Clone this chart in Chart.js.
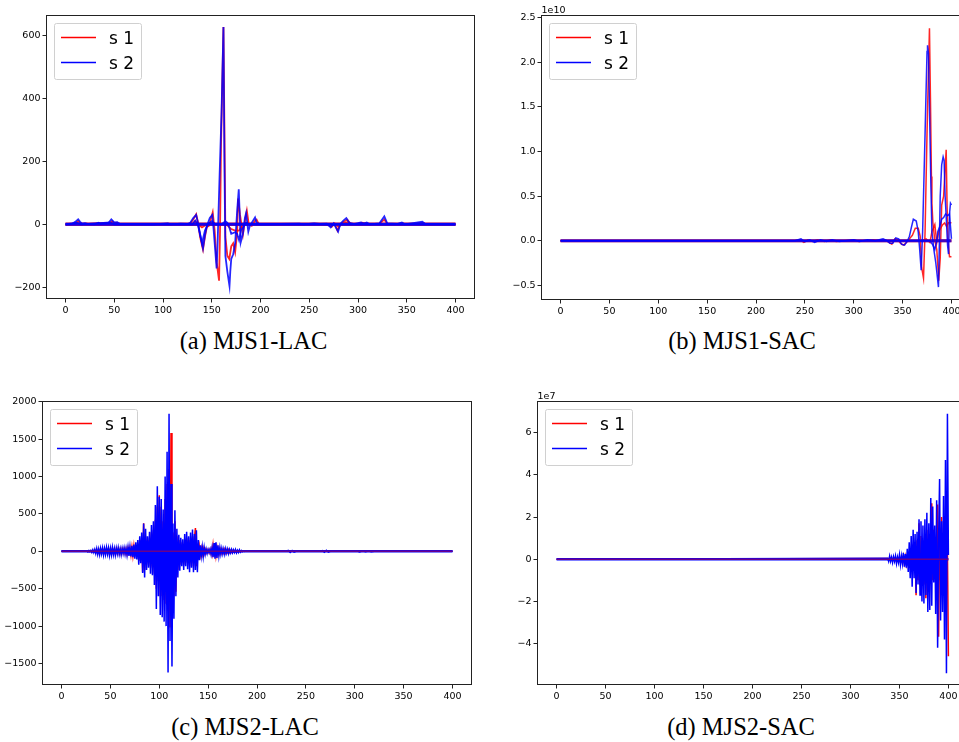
<!DOCTYPE html>
<html><head><meta charset="utf-8">
<script src="https://cdn.jsdelivr.net/npm/chart.js@4.4.1/dist/chart.umd.min.js"></script>
<style>
html,body{margin:0;padding:0;background:#fff;width:959px;height:742px;overflow:hidden;position:relative}
canvas{position:absolute}
.cap{position:absolute;font-family:'Liberation Serif','Times New Roman',serif;font-size:24.5px;color:#000;transform:translate(-50%,-50%);white-space:nowrap}
</style></head><body>
<canvas id="ca" width="485" height="321" style="left:0;top:0"></canvas>
<canvas id="cb" width="491" height="322" style="left:490px;top:0"></canvas>
<canvas id="cc" width="482" height="321" style="left:0;top:386px"></canvas>
<canvas id="cd" width="488" height="321" style="left:490px;top:386px"></canvas>
<div class="cap" style="left:253.5px;top:341px">(a) MJS1-LAC</div>
<div class="cap" style="left:742px;top:341px">(b) MJS1-SAC</div>
<div class="cap" style="left:245px;top:727px">(c) MJS2-LAC</div>
<div class="cap" style="left:741px;top:727px">(d) MJS2-SAC</div>
<script>
// ---------- tick labels ----------
const X_TICKS = [0,50,100,150,200,250,300,350,400];
const A_YTICKS = [-200,0,200,400,600];
const B_YTICKS = [-0.5,0,0.5,1.0,1.5,2.0,2.5];
const C_YTICKS = [-1500,-1000,-500,0,500,1000,1500,2000];
const D_YTICKS = [-4,-2,0,2,4,6];
const SERIES_LABELS = ['s 1','s 2'];

// ---------- (a) MJS1-LAC ----------
const A_S1 = [[0,0],[8,1],[11,6],[13,10],[15,4],[18,1],[22,2],[26,0],[34,3],[36,0],[45,3],[48,10],[50,4],[53,5],[55,0],[70,1],[90,0],[105,2],[108,0],[118,1],[125,0],[128,3],[131,15],[134,32],[136,5],[138,-40],[141,-80],[143,-40],[145,-8],[147,-5],[149,15],[151,38],[153,-20],[155,-120],[157.5,-179],[158.5,-20],[159.5,250],[160.5,250],[162,626],[163,300],[164,-40],[166,-100],[168,-110],[170,-70],[172,-60],[174,-88],[176,-30],[177,82],[179,30],[182,-32],[184,10],[186,43],[188,0],[191,-5],[194,10],[196,15],[198,2],[205,0],[220,1],[240,0],[255,2],[262,1],[270,-3],[273,-8],[276,2],[279,-20],[281,-5],[284,5],[289,15],[292,3],[298,0],[304,5],[308,3],[312,0],[322,2],[327,15],[330,2],[340,0],[345,3],[350,0],[367,4],[370,0],[400,0]];
const A_S1B = [[0,0],[12,3],[15,0],[47,5],[50,0],[130,0],[133,10],[136,0],[140,-10],[145,0],[150,5],[155,0],[165,0],[170,-15],[174,-20],[178,-20],[181,-5],[185,5],[190,0],[278,0],[280,-8],[283,0],[290,8],[293,0],[400,0]];
const A_S2 = [[0,0],[7,2],[10,8],[13,16],[15,8],[17,2],[20,4],[23,1],[30,0],[34,5],[36,1],[44,4],[47,16],[50,6],[53,7],[56,1],[70,1],[90,0],[105,3],[108,0],[118,2],[125,1],[128,5],[131,20],[134,30],[136,2],[138,-30],[141,-76],[143,-35],[145,-5],[148,20],[150.6,30],[152,-20],[155,-140],[156,-60],[158,150],[160,350],[162,626],[163,200],[164,-100],[166,-150],[168.2,-196],[169,-150],[170,-110],[172,-95],[174,-60],[176,40],[177.7,111],[179.7,-57],[182,-30],[184,20],[185.2,35],[187.5,-23],[189,-5],[192,10],[194.4,22],[196,5],[200,0],[220,1],[240,2],[244,0],[255,3],[260,1],[268,2],[272,-10],[275,3],[279.6,-23],[282,2],[285,12],[288,20],[291,5],[296,1],[303,6],[306,2],[309,6],[312,0],[322,3],[327,25],[330,3],[340,1],[345,6],[348,0],[366,8],[369,1],[400,0]];
const A_S2B = [[0,0],[12,5],[16,0],[46,6],[50,0],[130,0],[133,12],[136,-5],[140,-60],[143,-20],[146,0],[150,10],[154,0],[160,0],[164,10],[166,5],[168,-10],[170,-30],[174,-25],[176,-30],[178,-50],[180,-20],[182,-10],[185,5],[188,0],[400,0]];
const FLAT = [[0,0],[400,0]];

// ---------- (b) MJS1-SAC (x 1e10) ----------
const B_S1 = [[0,0],[240,0],[245,0.01],[249,-0.02],[253,0.01],[258,-0.01],[263,0.01],[270,-0.01],[276,0.01],[282,-0.01],[290,0],[300,0.01],[305,-0.01],[312,0],[320,0.01],[328,0],[332,0.01],[336,-0.02],[339,-0.04],[342,0.02],[345,0.01],[348,-0.03],[351,-0.05],[354,-0.02],[357,0.02],[360,0.06],[363,0.14],[366,0.14],[368,0.05],[369.5,-0.3],[371.4,-0.42],[373,0.1],[375,1.2],[377.5,2.38],[378.5,1.6],[379.5,0.72],[380,0.42],[381,0.2],[383,0.0],[385,-0.1],[387,-0.45],[388.5,-0.2],[390,0.4],[392,0.5],[394.6,1.02],[395.5,0.4],[396.5,0.0],[398,-0.18],[400,-0.18]];
const B_S1B = [[0,0],[370,0],[374,0.02],[378,-0.02],[380,0.1],[383,0.18],[385,-0.02],[387,0.1],[389,0.14],[391,0.18],[393,0.2],[395,0.16],[397,0.2],[399,0.2],[400,0.2]];
const B_S2 = [[0,0],[240,0],[246,0.02],[250,-0.01],[255,0.01],[260,-0.02],[266,0.01],[272,-0.01],[278,0.01],[285,-0.01],[292,0],[300,0.01],[306,-0.01],[314,0.01],[322,0],[330,0.02],[334,0],[337,-0.03],[340,-0.03],[343,0.03],[346,0.02],[349,-0.04],[352,-0.05],[355,0.0],[357,0.05],[359,0.15],[361,0.24],[364,0.22],[366,0.1],[367.5,-0.1],[369,-0.33],[370.5,0.1],[373,1.2],[375,2.12],[375.5,2.19],[376.5,2.1],[378,1.2],[379,0.6],[380,0.1],[382,-0.1],[384,-0.25],[386.7,-0.52],[387.5,-0.1],[388.5,0.5],[390,0.85],[391.5,0.94],[392.5,0.9],[393.5,0.5],[394.5,0.3],[396,-0.05],[397,-0.15],[398,0.3],[399,0.42],[400,0.4]];
const B_S2B = [[0,0],[378,0],[381,-0.05],[383,-0.1],[385,0],[386,0.1],[388,0.16],[390,0.24],[392,0.26],[394,0.3],[396,0.28],[398,0.3],[400,0.02]];

// ---------- (c) MJS2-LAC (one value per step from start) ----------
const C_START = 25;
const C_S1 = [0,3,-5,6,-4,8,-10,12,-10,15, -20,22,-25,20,-30,28,-22,30,-35,25, -30,35,-25,30,-38,28,-32,35,-30,25, -35,30,-25,32,-28,25,-30,28,-20,30, -25,30,-35,38,-40,40,-50,55,-60,65, -70,80,-80,100,-130,150,-120,180,-280,375, -250,200,-180,150,-160,180,-200,250,-220,280, -300,420,-500,600,-400,750,-600,596,-600,400, -650,700,-700,900,-800,1100,-1020,1580,-1000,250, -600,400,-540,200,-250,150,-180,120,-150,100, -180,160,-150,180,-160,150,-200,180,-160,200, -200,180,310,-200,100,-80,60,-50,40,-40, 35,-30,25,-20,20,-15,20,-25,30,-40, 80,-60,70,-60,50,-40,35,-30,25,-25, 20,-20,25,-20,15,-15,20,-15,10,-12, 10,-8,8,-6,5,-5,4,-3,2,-2, 0,0,0,0,0,0];
const C_S2 = [0,5,-8,10,-6,12,-15,20,-18,25, -30,35,-40,30,-45,40,-35,45,-50,38, -42,50,-38,45,-55,40,-48,52,-45,38, -50,42,-35,48,-40,35,-45,40,-30,45, -38,42,-50,55,-60,58,-70,75,-80,90, -100,120,-110,150,-180,200,-160,250,-290,370, -350,300,-250,200,-220,260,-300,350,-320,400, -450,620,-770,870,-600,730,-850,700,-880,560, -940,1000,-1000,1330,-1620,1840,-1200,900,-1540,370, -900,550,-600,300,-350,220,-260,180,-200,160, -250,230,-200,260,-240,200,-280,250,-220,290, -280,230,-250,280,-280,150,-120,80,-60,60, -70,50,-40,30,-30,25,-20,30,-40,50, -80,110,-100,120,-90,80,-60,50,-40,40, -35,30,-40,35,-25,30,-30,25,-20,25, -20,20,-15,25,-20,15,-15,20,-10,10, -5,5,-3,2,0,0];
const C_S2B = [[0,0],[230,0],[232,12],[234,-15],[236,10],[238,-12],[240,0],[265,0],[267,10],[269,-12],[271,14],[273,-10],[275,0],[300,0],[302,8],[305,-8],[308,6],[311,-7],[314,5],[317,-5],[320,0],[400,0]];

// ---------- (d) MJS2-SAC (x 1e7, one value per step from start) ----------
const D_START = 338;
const D_S1 = [0.03,-0.05,0.08,-0.05,0.06,-0.08,0.05,-0.06,0.08,-0.1, 0.06,-0.08,0.1,-0.12,0.08,-0.1,0.15,-0.18,0.12,-0.2, 0.25,-0.3,0.2,-0.4,0.5,-0.6,0.7,-0.5,0.8,-1.7, 0.9,-1.0,1.7,-1.2,1.1,-0.8,0.9,-1.2,1.0,-1.85, 1.4,-1.0,1.2,-0.9,1.0,2.65,-1.0,1.4,-0.8,1.0, -1.2,2.6,-3.67,1.5,-1.0,2.0,-1.5,1.0,-1.2,1.5,-1.0,0.5,-4.6];
const D_S2 = [0.05,-0.1,0.15,-0.1,0.1,-0.15,0.12,-0.1,0.15,-0.2, 0.1,-0.15,0.2,-0.25,0.15,-0.2,0.3,-0.35,0.25,-0.4, 0.5,-0.6,0.8,-0.9,1.1,-1.3,1.4,-0.9,1.2,-1.6, 1.3,-1.2,1.9,-1.7,1.8,-2.0,1.6,-2.1,1.9,-1.7, 2.2,-2.5,1.7,-2.4,2.9,-2.2,2.5,-1.1,1.6,-2.6, 2.8,-4.2,1.0,3.8,-2.9,1.8,-2.5,3.0,-3.8,4.7,-5.4,6.9,0.2];

// ---------- helpers ----------
const pts = arr => arr.map(p => ({x:p[0], y:p[1]}));
const seq = (start, vals) => [{x:0,y:0}].concat(vals.map((v,i)=>({x:start+i,y:v})), vals.length + start - 1 < 400 ? [{x:400,y:0}] : []);
const minus = s => s.replace('-', '\u2212');

const RED = 'rgba(255,0,0,0.85)', BLUE = 'rgba(0,0,255,0.85)';

const framePlugin = {
  id:'frameBox',
  afterDatasetsDraw(chart) {
    const a = chart.chartArea, c = chart.ctx;
    c.save(); c.strokeStyle = '#222'; c.lineWidth = 1;
    c.strokeRect(Math.round(a.left)+0.5, Math.round(a.top)+0.5, Math.round(a.right-a.left)-1, Math.round(a.bottom-a.top)-1);
    c.restore();
  }
};
const legendPlugin = {
  id:'boxLegend',
  afterDraw(chart) {
    const o = chart.options.plugins.boxLegend; if (!o) return;
    const a = chart.chartArea, c = chart.ctx;
    const x = Math.round(a.left) + 8.5, y = Math.round(a.top) + 8.5, w = 87, h = 56, r = 2;
    c.save();
    c.beginPath();
    c.moveTo(x+r,y); c.lineTo(x+w-r,y); c.arcTo(x+w,y,x+w,y+r,r); c.lineTo(x+w,y+h-r); c.arcTo(x+w,y+h,x+w-r,y+h,r);
    c.lineTo(x+r,y+h); c.arcTo(x,y+h,x,y+h-r,r); c.lineTo(x,y+r); c.arcTo(x,y,x+r,y,r); c.closePath();
    c.fillStyle = 'rgba(255,255,255,0.8)'; c.fill();
    c.strokeStyle = '#d0d0d0'; c.lineWidth = 1; c.stroke();
    o.items.forEach((it, i) => {
      const ly = y + 14 + i*25;
      c.strokeStyle = it.color; c.lineWidth = 1.5;
      c.beginPath(); c.moveTo(x+6.5, ly); c.lineTo(x+41.5, ly); c.stroke();
      c.fillStyle = '#000'; c.font = '17px "DejaVu Sans"'; c.textBaseline = 'alphabetic'; c.textAlign = 'left';
      c.fillText(it.label, x+54.5, ly+6);
    });
    if (o.offset) {
      c.font = '9.5px "DejaVu Sans"'; c.fillStyle = '#000'; c.textBaseline = 'alphabetic';
      c.fillText(o.offset, Math.round(a.left) + 0.5, Math.round(a.top) - 2.5);
    }
    c.restore();
  }
};

function build(id, p) {
  const ds = p.series.map(s => ({
    data: s.data, borderColor: s.color, borderWidth: s.w, order: s.order,
    pointRadius: 0, tension: 0, fill: false, spanGaps: true
  }));
  new Chart(document.getElementById(id), {
    type: 'line',
    data: { datasets: ds },
    options: {
      responsive: false, animation: false, devicePixelRatio: 1,
      layout: { padding: { top: p.pt, right: 10, left: 0, bottom: 0 } },
      plugins: { legend: {display:false}, tooltip: {enabled:false},
        boxLegend: { items: [{label:SERIES_LABELS[0], color:'rgb(255,0,0)'},{label:SERIES_LABELS[1], color:'rgb(0,0,255)'}], offset: p.offset } },
      scales: {
        x: { type:'linear', min:-20, max:420,
          afterFit: s => { s.height = 22; },
          afterBuildTicks: s => { s.ticks = X_TICKS.map(v => ({value:v})); },
          grid: { display:true, drawOnChartArea:false, drawTicks:true, tickLength:3.5, color:'#222' },
          border: { display:false },
          ticks: { autoSkip:false, maxRotation:0, padding:2, color:'#000', font:{family:'DejaVu Sans', size:9.5}, callback: v => String(v) } },
        y: { type:'linear', min:p.ymin, max:p.ymax,
          afterFit: s => { s.width = p.yw; },
          afterBuildTicks: s => { s.ticks = p.yticks.map(v => ({value:v})); },
          grid: { display:true, drawOnChartArea:false, drawTicks:true, tickLength:3.5, color:'#222' },
          border: { display:false },
          ticks: { autoSkip:false, padding:2, color:'#000', font:{family:'DejaVu Sans', size:9.5}, callback: p.fmt } }
      }
    },
    plugins: [framePlugin, legendPlugin]
  });
}

const intFmt = v => minus(String(v));
build('ca', { pt:15, yw:46, ymin:-237, ymax:664.4, yticks:A_YTICKS, fmt:intFmt, offset:null,
  series: [
    {data:pts(FLAT), color:'rgba(255,0,0,0.85)', w:3.5, order:9},
    {data:pts(A_S1B), color:RED, w:1.8, order:8},
    {data:pts(A_S1), color:RED, w:1.8, order:7},
    {data:pts(FLAT), color:'rgba(0,0,255,0.9)', w:3, order:3},
    {data:pts(A_S2B), color:BLUE, w:1.8, order:2},
    {data:pts(A_S2), color:BLUE, w:1.8, order:1}
  ]});
build('cb', { pt:15, yw:51, ymin:-0.665, ymax:2.53, yticks:B_YTICKS, fmt: v => minus(v.toFixed(1)), offset:'1e10',
  series: [
    {data:pts(FLAT), color:'rgba(255,0,0,0.9)', w:3, order:9},
    {data:pts(B_S1B), color:RED, w:1.5, order:8},
    {data:pts(B_S1), color:RED, w:1.5, order:7},
    {data:pts(FLAT), color:'rgba(0,0,255,0.72)', w:3, order:3},
    {data:pts(B_S2B), color:BLUE, w:1.5, order:2},
    {data:pts(B_S2), color:BLUE, w:1.5, order:1}
  ]});
build('cc', { pt:15, yw:42, ymin:-1787, ymax:2009, yticks:C_YTICKS, fmt:intFmt, offset:null,
  series: [
    {data:seq(C_START, C_S1), color:'rgb(255,0,0)', w:1.5, order:9},
    {data:pts(FLAT), color:'rgb(0,0,255)', w:2.5, order:8},
    {data:pts(C_S2B), color:'rgb(0,0,255)', w:1.5, order:7},
    {data:seq(C_START, C_S2), color:'rgb(0,0,255)', w:1.5, order:6},
    {data:pts(FLAT), color:'rgba(180,0,60,0.6)', w:1.5, order:1}
  ]});
build('cd', { pt:15, yw:47, ymin:-5.96, ymax:7.5, yticks:D_YTICKS, fmt:intFmt, offset:'1e7',
  series: [
    {data:seq(D_START, D_S1), color:'rgb(255,0,0)', w:1.5, order:9},
    {data:pts(FLAT), color:'rgb(0,0,255)', w:2.5, order:8},
    {data:seq(D_START, D_S2), color:'rgb(0,0,255)', w:1.5, order:6},
    {data:pts(FLAT), color:'rgba(180,0,60,0.6)', w:1.5, order:1}
  ]});
</script>
</body></html>
